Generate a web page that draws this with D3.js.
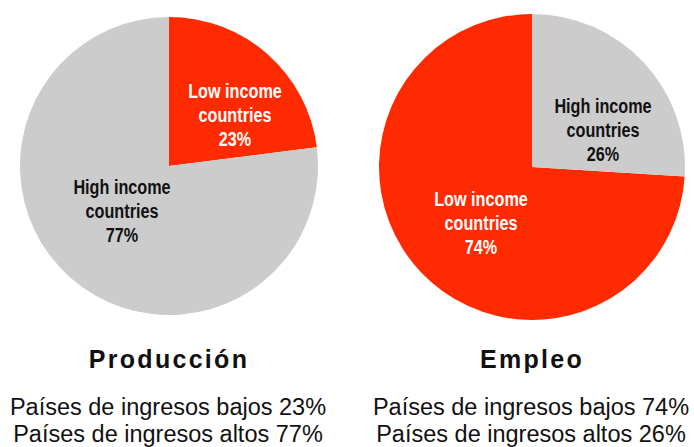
<!DOCTYPE html>
<html>
<head>
<meta charset="utf-8">
<script src="https://cdn.jsdelivr.net/npm/d3@7"></script>
<style>
  body { margin: 0; background: #fff; }
  svg { display: block; }
</style>
</head>
<body>
<div id="chart"></div>
<script>
// Chart data
const pieTitles = ["Producción", "Empleo"];
const categories = ["Low income countries", "High income countries"];
const lowShare = [23, 74];
const highShare = [77, 26];
const spanishLabels = ["Países de ingresos bajos", "Países de ingresos altos"];

// Layout
let width = 694, height = 447;
const centers = [[169, 166], [532, 167]];
const radii = [149, 153];
// label offsets from the pie centre, [low, high]
const labelOffsets = [
    [[66, -44], [-47, 52]],
    [[-51, 63], [71, -30]]
];
const colors = {"Low income countries": "#ff2a00", "High income countries": "#cccccc"};
const textColors = {"Low income countries": "#ffffff", "High income countries": "#111111"};

let svg = d3.select("#chart").append("svg")
    .attr("width", width)
    .attr("height", height);

// smaller slice first, starting at 12 o'clock going clockwise
let pie = d3.pie().value(d => d.value).sort((a, b) => a.value - b.value);

pieTitles.forEach((title, i) => {
    let data = categories.map((c, j) => ({
        category: c,
        value: j === 0 ? lowShare[i] : highShare[i],
        short: c.replace(" countries", "")
    }));

    let arc = d3.arc().innerRadius(0).outerRadius(radii[i]);

    let g = svg.append("g")
        .attr("transform", "translate(" + centers[i][0] + "," + centers[i][1] + ")");

    g.selectAll("path")
        .data(pie(data))
        .enter()
        .append("path")
        .attr("d", arc)
        .attr("fill", d => colors[d.data.category]);

    // slice labels (condensed bold, squeezed horizontally)
    data.forEach((d, j) => {
        let off = labelOffsets[i][j];
        let t = g.append("text")
            .attr("transform", "translate(" + off[0] + "," + off[1] + ") scale(0.79,1)")
            .attr("text-anchor", "middle")
            .attr("font-family", "'Liberation Sans', Arial, sans-serif")
            .attr("font-weight", "bold")
            .attr("font-size", "20.5px")
            .attr("fill", textColors[d.category]);
        [d.short, "countries", d.value + "%"].forEach((line, k) => {
            t.append("tspan")
                .attr("x", 0)
                .attr("y", (k - 1) * 24.5)
                .text(line);
        });
    });

    // title under the pie
    svg.append("text")
        .attr("x", centers[i][0])
        .attr("y", 368)
        .attr("text-anchor", "middle")
        .attr("font-family", "'Liberation Sans', Arial, sans-serif")
        .attr("font-weight", "bold")
        .attr("font-size", "25px")
        .attr("letter-spacing", "2.3px")
        .attr("fill", "#111")
        .text(title);

    // spanish legend lines
    [lowShare[i], highShare[i]].forEach((v, k) => {
        svg.append("text")
            .attr("x", centers[i][0] - 1)
            .attr("y", 415 + k * 27)
            .attr("text-anchor", "middle")
            .attr("font-family", "'Liberation Sans', Arial, sans-serif")
            .attr("font-size", "23.5px")
            .attr("fill", "#111")
            .text(spanishLabels[k] + " " + v + "%");
    });
});
</script>
</body>
</html>
